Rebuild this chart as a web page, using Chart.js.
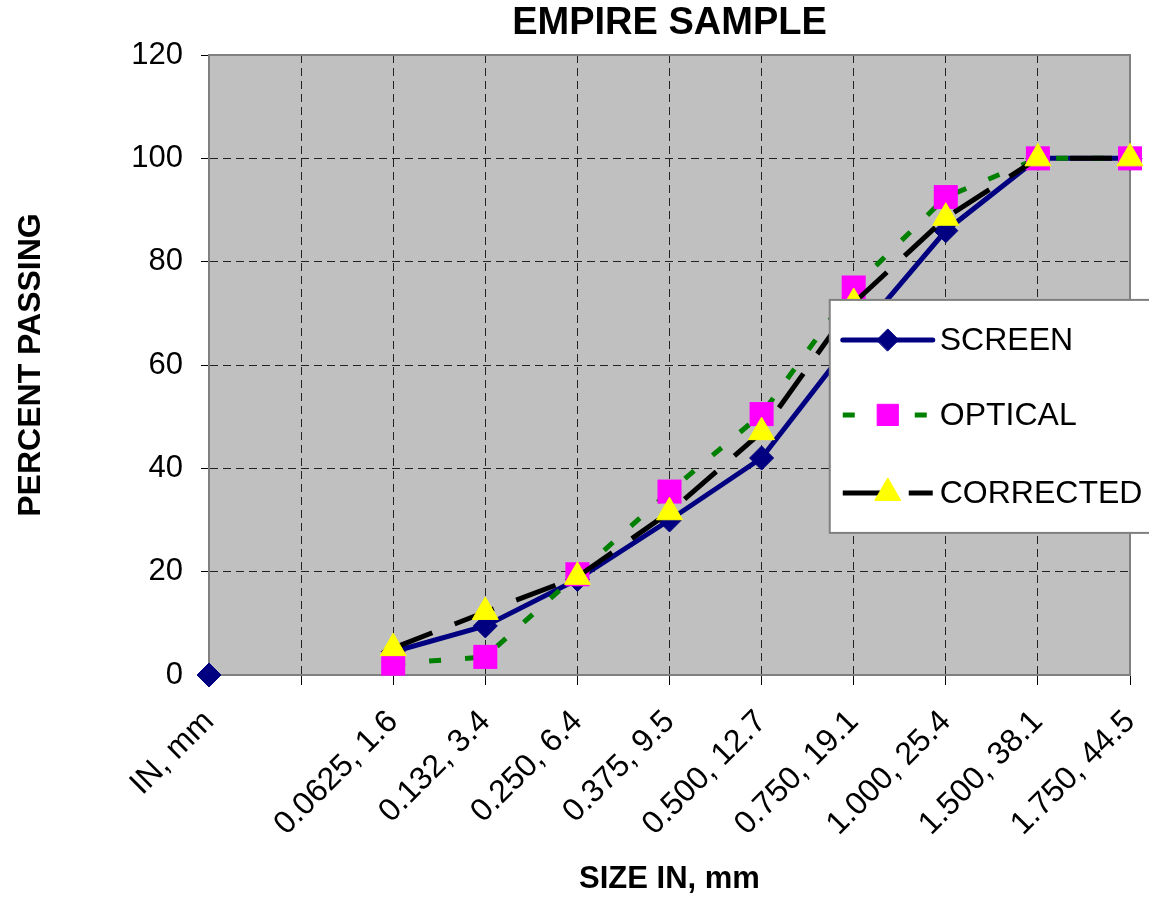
<!DOCTYPE html>
<html>
<head>
<meta charset="utf-8">
<title>Empire Sample</title>
<script src="https://cdn.jsdelivr.net/npm/chart.js@4/dist/chart.umd.min.js"></script>
<style>
    html, body { margin: 0; padding: 0; background: #fff; }
    #wrap { width: 1149px; height: 898px; }
</style>
</head>
<body>
<div id="wrap"><canvas id="sieveChart" width="1149" height="898"></canvas></div>
<script>
const sizes = ['IN, mm', '', '0.0625, 1.6', '0.132, 3.4', '0.250, 6.4', '0.375, 9.5',
    '0.500, 12.7', '0.750, 19.1', '1.000, 25.4', '1.500, 38.1', '1.750, 44.5'];
const screenPassing    = [0, null, 4.5, 9.5, 18.5, 30, 42, 65, 86, 100, 100];
const opticalPassing   = [null, null, 2.2, 3.5, 19.5, 35.5, 50.5, 75, 92.5, 100, 100];
const correctedPassing = [null, null, 5.2, 12.2, 19, 31.5, 47, 72, 88.5, 100, 100];
const seriesNames = ['SCREEN', 'OPTICAL', 'CORRECTED'];

Chart.defaults.font.family = '"Liberation Sans", Arial, sans-serif';
Chart.defaults.color = '#000';

// grey plot background + border round the plot area
const plotFrame = {
    id: 'plotFrame',
    beforeDraw(chart) {
        const { ctx, chartArea: a } = chart;
        ctx.save();
        ctx.fillStyle = '#fff';
        ctx.fillRect(0, 0, chart.width, chart.height);
        ctx.fillStyle = '#c0c0c0';
        ctx.fillRect(a.left, a.top, a.right - a.left, a.bottom - a.top);
        ctx.restore();
    },
    beforeDatasetsDraw(chart) {
        const { ctx, chartArea: a } = chart;
        ctx.save();
        ctx.strokeStyle = '#808080';
        ctx.lineWidth = 2;
        ctx.strokeRect(a.left, a.top, a.right - a.left, a.bottom - a.top);
        ctx.restore();
    }
};

// legend box drawn like the spreadsheet one (sits on top of the plot)
const boxLegend = {
    id: 'boxLegend',
    afterDraw(chart) {
        const { ctx, chartArea: a } = chart;
        const w = a.right - a.left, h = a.bottom - a.top;
        const x0 = a.left + w * 0.674;
        const y0 = a.top + h * 0.395;
        ctx.save();
        ctx.fillStyle = '#fff';
        ctx.strokeStyle = '#808080';
        ctx.lineWidth = 2;
        ctx.fillRect(x0, y0, chart.width - x0 + 10, 233);
        ctx.strokeRect(x0, y0, chart.width - x0 + 10, 233);

        const rowsY = [40, 115, 193];
        seriesNames.forEach((name, i) => {
            const ds = chart.data.datasets.find(d => d.label === name);
            const y = y0 + rowsY[i];
            const lx1 = x0 + 13, lx2 = x0 + 103;
            ctx.save();
            ctx.strokeStyle = ds.borderColor;
            ctx.lineWidth = ds.borderWidth;
            ctx.lineCap = i === 0 ? 'round' : 'butt';
            ctx.setLineDash(ds.borderDash || []);
            ctx.beginPath();
            ctx.moveTo(lx1, y);
            ctx.lineTo(lx2, y);
            ctx.stroke();
            ctx.setLineDash([]);
            ctx.fillStyle = ds.pointBackgroundColor;
            ctx.strokeStyle = ds.pointBorderColor;
            ctx.lineWidth = 1;
            Chart.helpers.drawPoint(ctx, {
                pointStyle: ds.pointStyle,
                radius: ds.legendRadius,
                rotation: 0,
                borderWidth: 1
            }, (lx1 + lx2) / 2, y);
            ctx.restore();

            ctx.fillStyle = '#000';
            ctx.font = '32px "Liberation Sans", Arial, sans-serif';
            ctx.textBaseline = 'middle';
            ctx.textAlign = 'left';
            ctx.fillText(name, x0 + 110, y + 1);
        });
        ctx.restore();
    }
};

const ctx = document.getElementById('sieveChart').getContext('2d');

const chart = new Chart(ctx, {
    type: 'line',
    data: {
        labels: sizes,
        datasets: [
            {
                label: 'SCREEN', data: screenPassing, order: 2, clip: false,
                borderColor: '#000080', borderWidth: 5, tension: 0,
                pointStyle: 'rectRot', pointRadius: 12, legendRadius: 11,
                pointBackgroundColor: '#000080', pointBorderColor: '#000080', pointBorderWidth: 1
            },
            {
                label: 'OPTICAL', data: opticalPassing, order: 1, clip: false,
                borderColor: '#008000', borderWidth: 5, borderDash: [12, 24], tension: 0,
                pointStyle: 'rect', pointRadius: 17, legendRadius: 15,
                pointBackgroundColor: '#ff00ff', pointBorderColor: '#ff00ff', pointBorderWidth: 0
            },
            {
                label: 'CORRECTED', data: correctedPassing, order: 0, clip: false,
                borderColor: '#000000', borderWidth: 5, borderDash: [42, 24], tension: 0,
                pointStyle: 'triangle', pointRadius: 15, legendRadius: 15,
                pointBackgroundColor: '#ffff00', pointBorderColor: '#ffff00', pointBorderWidth: 1
            }
        ]
    },
    options: {
        responsive: false,
        animation: false,
        devicePixelRatio: 1,
        layout: { padding: { left: 0, right: 19, top: 0, bottom: 0 } },
        plugins: {
            legend: { display: false },
            tooltip: { enabled: false },
            title: {
                display: true,
                fullSize: false,
                text: 'EMPIRE SAMPLE',
                color: '#000',
                font: { size: 38, weight: 'bold', lineHeight: 1 },
                padding: { top: 5, bottom: 12 }
            }
        },
        scales: {
            x: {
                type: 'category',
                offset: false,
                afterFit: (scale) => {
                    scale.height = 223;
                    scale.paddingLeft = 0;
                    scale.paddingRight = 0;
                },
                grid: {
                    color: '#222', lineWidth: 1,
                    tickLength: 10, tickColor: '#000', tickBorderDash: []
                },
                border: { display: true, color: '#808080', width: 2, dash: [8, 5] },
                ticks: {
                    autoSkip: false, minRotation: 45, maxRotation: 45,
                    padding: 18, font: { size: 32 }, color: '#000'
                },
                title: {
                    display: true, text: 'SIZE IN, mm',
                    font: { size: 31, weight: 'bold' },
                    padding: { top: 7, bottom: 0 }
                }
            },
            y: {
                min: 0, max: 120,
                afterFit: (scale) => { scale.width = 209; },
                grid: {
                    color: '#222', lineWidth: 1,
                    tickLength: 8, tickColor: '#000', tickBorderDash: []
                },
                border: { display: true, color: '#808080', width: 2, dash: [8, 5] },
                ticks: { stepSize: 20, padding: 18, font: { size: 31 }, color: '#000' },
                title: {
                    display: true, text: 'PERCENT PASSING',
                    font: { size: 32, weight: 'bold' },
                    padding: { top: 12, bottom: 0 }
                }
            }
        }
    },
    plugins: [plotFrame, boxLegend]
});
</script>
</body>
</html>
